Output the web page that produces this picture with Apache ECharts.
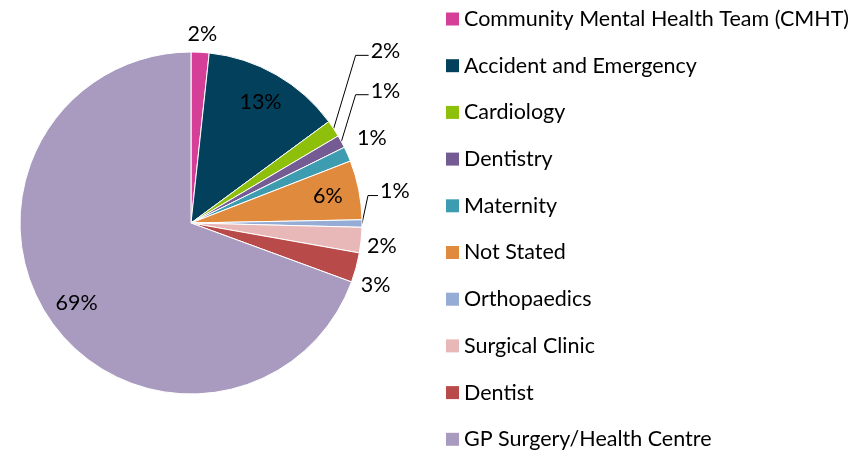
<!DOCTYPE html>
<html>
<head>
<meta charset="utf-8">
<script src="https://cdn.jsdelivr.net/npm/echarts@6/dist/echarts.min.js"></script>
<style>
html, body { margin: 0; padding: 0; background: #fff; }
#main { width: 860px; height: 453px; }
</style>
</head>
<body>
<div id="main"></div>
<script>
// where people were referred from, share of responses (%)
const categories = [
    'Community Mental Health Team (CMHT)',
    'Accident and Emergency',
    'Cardiology',
    'Dentistry',
    'Maternity',
    'Not Stated',
    'Orthopaedics',
    'Surgical Clinic',
    'Dentist',
    'GP Surgery/Health Centre'
];
const shares = [1.7, 13.2, 1.6, 1.2, 1.4, 5.6, 0.7, 2.4, 2.8, 69.4];
const shareLabels = ['2%', '13%', '2%', '1%', '1%', '6%', '1%', '2%', '3%', '69%'];

const colors = ['#d63f98', '#03405c', '#8dbf0b', '#755b93', '#3e9cb1',
                '#e08a3e', '#95acd5', '#e8b8b8', '#b84b4a', '#a99bbf'];

// label placement: inside the slice, or outside moved [dx, dy] from the default spot
const insideLabel = [false, true, false, false, false, true, false, false, false, true];
const labelNudge = [[-18, -12], null, [27, -74], [19, -48], [-1, -14], null, [7, -32], [-5, 5], [-6, 16], null];
// horizontal bit of the leader line, 0 = no line
const leaderLen = [0, 0, 13, 13, 0, 0, 10, 0, 0, 0];

const font = 'Lato';
const fontSize = 21.5;

let chart = echarts.init(document.getElementById('main'));

const mainData = categories.map((name, i) => ({
    name: name,
    value: shares[i],
    itemStyle: { color: colors[i] },
    label: { show: !insideLabel[i] },
    labelLine: { show: leaderLen[i] > 0 }
}));

// same slices again, invisible, only to carry the labels that sit inside
const innerData = categories.map((name, i) => ({
    name: name,
    value: shares[i],
    label: { show: insideLabel[i] }
}));

chart.setOption({
    animation: false,
    legend: {
        orient: 'vertical',
        left: 446,
        top: 8,
        padding: 0,
        icon: 'rect',
        itemWidth: 13,
        itemHeight: 13,
        itemGap: 24.7,
        itemStyle: { borderWidth: 0 },
        textStyle: { fontFamily: font, fontSize: fontSize, color: '#000', lineHeight: 22 },
        data: categories
    },
    series: [
        {
            type: 'pie',
            center: [191, 223],
            radius: 171,
            startAngle: 90,
            clockwise: true,
            avoidLabelOverlap: false,
            itemStyle: { borderColor: '#fff', borderWidth: 1 },
            label: {
                position: 'outside',
                fontFamily: font,
                fontSize: fontSize,
                color: '#000',
                formatter: p => shareLabels[p.dataIndex]
            },
            labelLine: {
                length: 6,
                length2: 0,
                smooth: false,
                lineStyle: { color: '#000', width: 1 }
            },
            labelLayout: function (p) {
                const n = labelNudge[p.dataIndex];
                if (!n) return {};
                const r = p.labelRect;
                const x = r.x + n[0];
                const y = r.y + r.height / 2 + n[1];
                const out = { x: x, y: y };
                const h = leaderLen[p.dataIndex];
                if (h && p.labelLinePoints) {
                    const end = [x - 2, y + 4];
                    out.labelLinePoints = [p.labelLinePoints[0], [end[0] - h, end[1]], end];
                }
                return out;
            },
            emphasis: { disabled: true },
            data: mainData
        },
        {
            type: 'pie',
            center: [191, 223],
            radius: [102, 171],
            startAngle: 90,
            clockwise: true,
            silent: true,
            itemStyle: { color: 'rgba(0,0,0,0)', borderWidth: 0 },
            label: {
                position: 'inside',
                fontFamily: font,
                fontSize: fontSize,
                color: '#000',
                formatter: p => shareLabels[p.dataIndex]
            },
            labelLine: { show: false },
            emphasis: { disabled: true },
            data: innerData
        }
    ]
});
</script>
</body>
</html>
